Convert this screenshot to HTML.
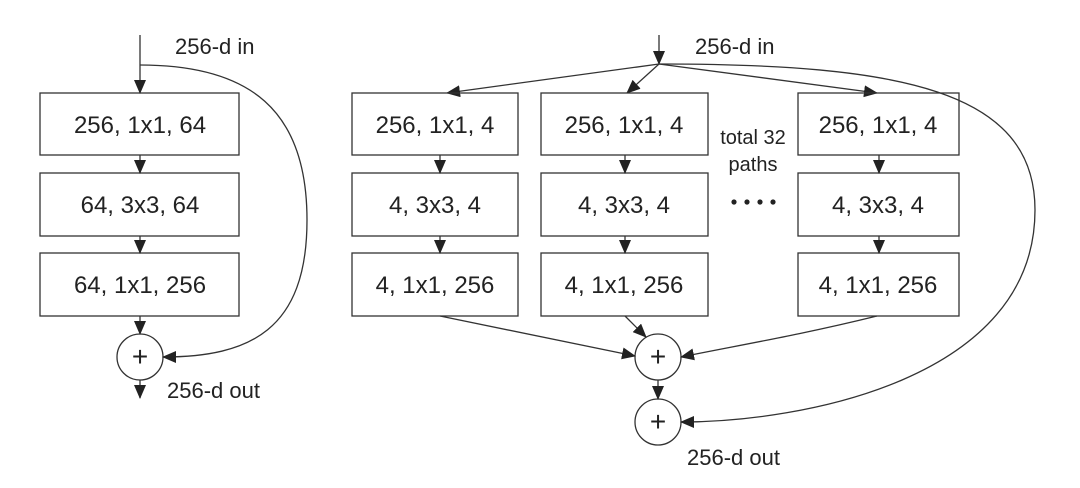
<!DOCTYPE html>
<html><head><meta charset="utf-8"><style>
html,body{margin:0;padding:0;background:#fff;}
svg{display:block;}
text{font-family:"Liberation Sans","DejaVu Sans",sans-serif;fill:#222;}
</style></head><body>
<svg width="1080" height="488" viewBox="0 0 1080 488" xmlns="http://www.w3.org/2000/svg">
<defs>
<marker id="b" markerWidth="14" markerHeight="12" refX="13" refY="6" orient="auto" markerUnits="userSpaceOnUse">
<path d="M0,0 L14,6 L0,12 Z" fill="#222"/></marker>
</defs>
<g stroke="#333" stroke-width="1.3" fill="none">
<line x1="140" y1="35" x2="140" y2="93" marker-end="url(#b)"/>
<rect x="40" y="93" width="199" height="62"/>
<rect x="40" y="173" width="199" height="63"/>
<rect x="40" y="253" width="199" height="63"/>
<line x1="140" y1="155" x2="140" y2="173" marker-end="url(#b)"/>
<line x1="140" y1="236" x2="140" y2="253" marker-end="url(#b)"/>
<line x1="140" y1="316" x2="140" y2="334" marker-end="url(#b)"/>
<circle cx="140" cy="357" r="23"/>
<line x1="140" y1="380" x2="140" y2="398" marker-end="url(#b)"/>
<path d="M140,65 C250,65 307,110 307,220 C307,330 250,357 163,357" marker-end="url(#b)"/>
<line x1="659" y1="35" x2="659" y2="64" marker-end="url(#b)"/>
<line x1="659" y1="64" x2="447" y2="93" marker-end="url(#b)"/>
<line x1="659" y1="64" x2="627" y2="93" marker-end="url(#b)"/>
<line x1="659" y1="64" x2="877" y2="93" marker-end="url(#b)"/>
<rect x="352" y="93" width="166" height="62"/>
<rect x="352" y="173" width="166" height="63"/>
<rect x="352" y="253" width="166" height="63"/>
<rect x="541" y="93" width="167" height="62"/>
<rect x="541" y="173" width="167" height="63"/>
<rect x="541" y="253" width="167" height="63"/>
<rect x="798" y="93" width="161" height="62"/>
<rect x="798" y="173" width="161" height="63"/>
<rect x="798" y="253" width="161" height="63"/>
<line x1="440" y1="155" x2="440" y2="173" marker-end="url(#b)"/>
<line x1="440" y1="236" x2="440" y2="253" marker-end="url(#b)"/>
<line x1="625" y1="155" x2="625" y2="173" marker-end="url(#b)"/>
<line x1="625" y1="236" x2="625" y2="253" marker-end="url(#b)"/>
<line x1="879" y1="155" x2="879" y2="173" marker-end="url(#b)"/>
<line x1="879" y1="236" x2="879" y2="253" marker-end="url(#b)"/>
<circle cx="658" cy="357" r="23"/>
<circle cx="658" cy="422" r="23"/>
<line x1="440" y1="316" x2="635" y2="356" marker-end="url(#b)"/>
<line x1="625" y1="316" x2="646" y2="337" marker-end="url(#b)"/>
<path d="M877,316 C800,335 740,345 681,357" marker-end="url(#b)"/>
<line x1="658" y1="380" x2="658" y2="399" marker-end="url(#b)"/>
<path d="M659,64 C900,64 1035,90 1035,210 C1035,380 800,422 681,422" marker-end="url(#b)"/>
</g>
<g font-size="24" text-anchor="middle">
<text x="140" y="133">256, 1x1, 64</text>
<text x="140" y="213">64, 3x3, 64</text>
<text x="140" y="293">64, 1x1, 256</text>
<text x="435" y="133">256, 1x1, 4</text>
<text x="435" y="213">4, 3x3, 4</text>
<text x="435" y="293">4, 1x1, 256</text>
<text x="624" y="133">256, 1x1, 4</text>
<text x="624" y="213">4, 3x3, 4</text>
<text x="624" y="293">4, 1x1, 256</text>
<text x="878" y="133">256, 1x1, 4</text>
<text x="878" y="213">4, 3x3, 4</text>
<text x="878" y="293">4, 1x1, 256</text>
<text x="140" y="366" font-size="28">+</text>
<text x="658" y="366" font-size="28">+</text>
<text x="658" y="431" font-size="28">+</text>
</g>
<g font-size="22">
<text x="175" y="54">256-d in</text>
<text x="167" y="398">256-d out</text>
<text x="695" y="54">256-d in</text>
<text x="687" y="465">256-d out</text>
<text x="753" y="144" text-anchor="middle" font-size="20">total 32</text>
<text x="753" y="171" text-anchor="middle" font-size="20">paths</text>
</g>
<g fill="#222">
<circle cx="734" cy="202" r="2.6"/><circle cx="747" cy="202" r="2.6"/>
<circle cx="760" cy="202" r="2.6"/><circle cx="773" cy="202" r="2.6"/>
</g>
</svg>
</body></html>
